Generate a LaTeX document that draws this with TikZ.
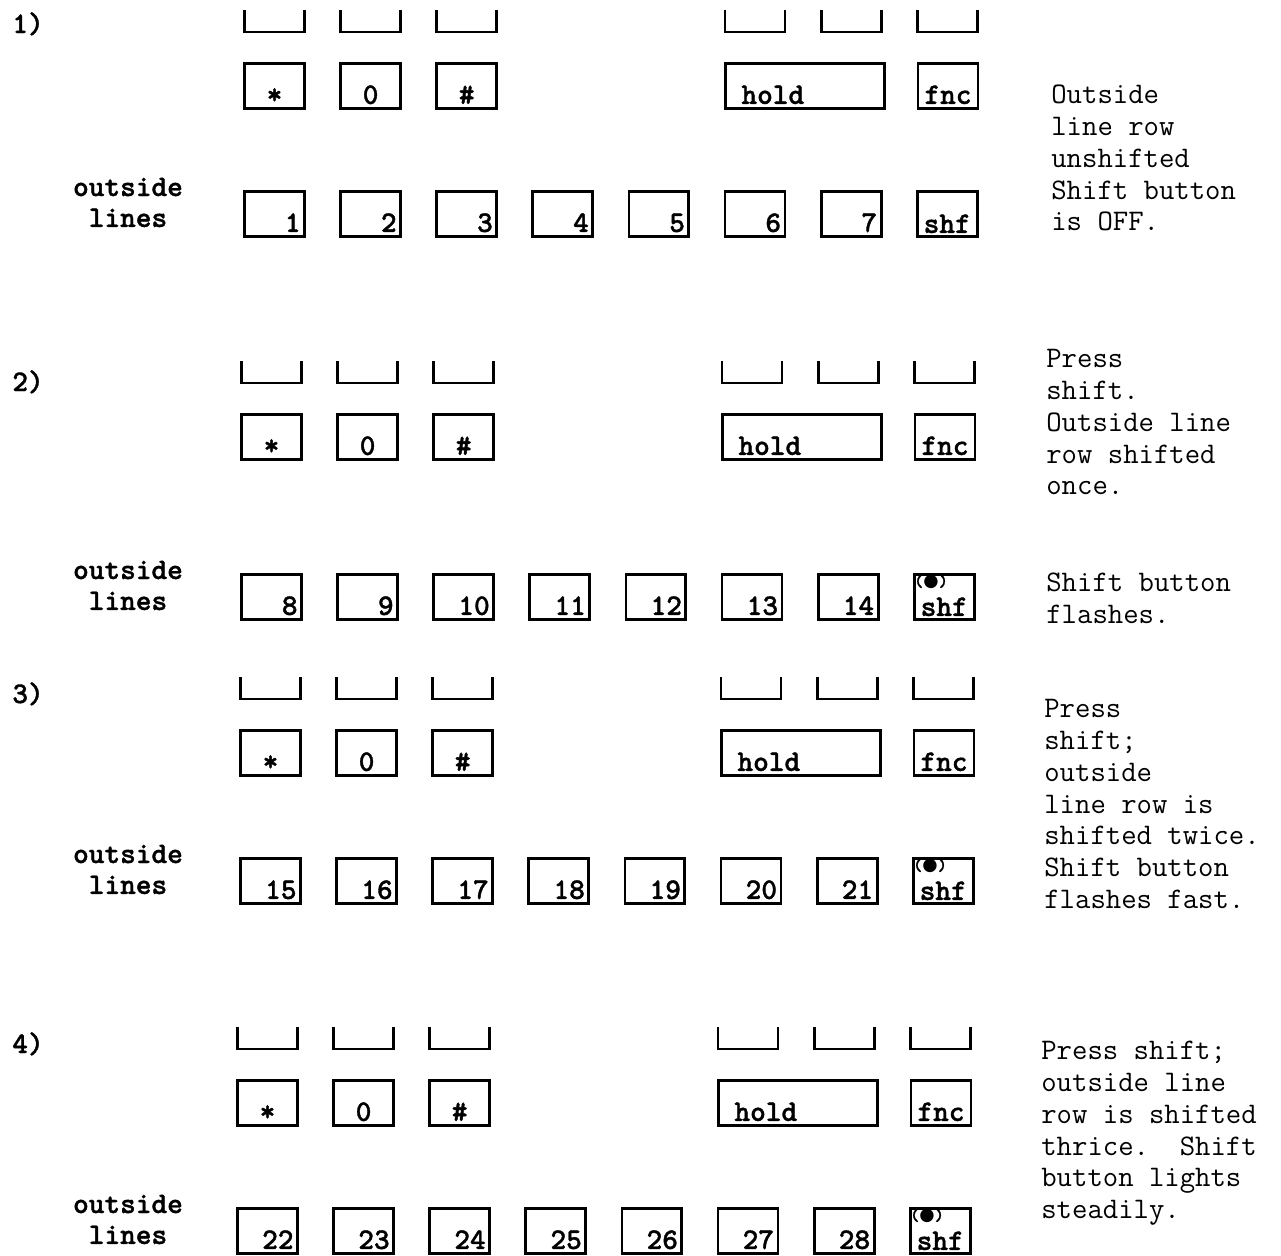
\documentclass[tikz,border=0pt]{standalone}
\usepackage{fontspec}
\newfontfamily\dotfont{DejaVu Sans}
\newfontfamily\heavytt[FakeBold=1.2]{lmmonolt10-bold.otf}
\frenchspacing

\tikzset{
  keybox/.style={draw, rectangle, line width=1.6pt, inner sep=0pt, minimum width=1.2cm, minimum height=0.9cm},
  keytext/.style={inner sep=0pt, font=\heavytt\fontsize{17}{18}\selectfont},
  steptext/.style={inner sep=0pt, font=\heavytt\fontsize{17}{17.6}\selectfont},
  dottext/.style={inner sep=0pt, font=\heavytt\fontsize{10}{10}\selectfont},
  notetext/.style={inner sep=0pt, align=left, anchor=north west, font=\ttfamily\fontsize{17}{18.1}\selectfont},
  cuff/.style={line width=1.6pt}
}

\begin{document}
\begin{tikzpicture}[x=0.02cm, y=-0.02cm]
  \useasboundingbox (0,0) rectangle (1281,1255);

  % ctyri kroky: cislo / popisek / drzaky / prostredni rada / rada linek / posun
  \foreach \p/\yl/\yb/\ym/\yr/\dx in {1/25/32/62/190/0, 2/383/383/413/573/-3, 3/695/699/729/857/-4, 4/1045/1049/1079/1207/-7}{
    \node[steptext, anchor=base west] (p\p-num) at (12,\yl+8) {\p)};
    \node[steptext, anchor=north, align=center] (p\p-lines) at (128,\yr-16) {\strut outside\\lines};
    \begin{scope}[xshift=\dx*0.02cm]
      % prazdne drzaky nahore
      \foreach \x in {274.5,370.6,466.7,755,851.1,947.2}
        \draw[cuff] (\x-30,\yb-22) |- (\x+30,\yb) -- (\x+30,\yb-22);

      % prostredni rada
      \node[keybox] (p\p-star) at (274.5,\ym+24) {};
      \node[keybox] (p\p-zero) at (370.6,\ym+24) {};
      \node[keybox] (p\p-hash) at (466.7,\ym+24) {};
      \node[keybox, minimum width=3.18cm] (p\p-hold) at (805,\ym+24) {};
      \node[keybox] (p\p-fnc) at (948,\ym+24) {};
      \node[keytext, anchor=base] (p\p-star-t) at ([shift={(0,-6)}]p\p-star.south) {*};
      \node[keytext, anchor=base] (p\p-zero-t) at ([shift={(0,-6)}]p\p-zero.south) {0};
      \node[keytext, anchor=base] (p\p-hash-t) at ([shift={(0,-6)}]p\p-hash.south) {\#};
      \node[keytext, anchor=base west] (p\p-hold-t) at ([shift={(17,-6)}]p\p-hold.south west) {hold};
      \node[keytext, anchor=base] (p\p-fnc-t) at ([shift={(0,-6)}]p\p-fnc.south) {fnc};

      % rada vnejsich linek
      \foreach \i [evaluate=\i as \kx using 274.5+96.1*(\i-1), evaluate=\i as \lbl using int(7*(\p-1)+\i)] in {1,...,7}{
        \node[keybox] (p\p-k\i) at (\kx,\yr+24) {};
        \node[keytext, anchor=base east] (p\p-t\i) at ([shift={(-5,-6)}]p\p-k\i.south east) {\lbl};
      }
      \node[keybox] (p\p-shf) at (947.2,\yr+24) {};
      \node[keytext, anchor=base] (p\p-shf-t) at ([shift={(0,-5)}]p\p-shf.south) {shf};
      \ifnum\p>1
        \node[dottext, anchor=north west] (p\p-led) at ([shift={(1,1)}]p\p-shf.north west) {({\dotfont\fontsize{10}{10}\selectfont ●})};
      \fi
    \end{scope}
  }

  % vysvetlivky vpravo
  \node[notetext] (note1) at (1051,81) {\strut Outside\\line row\\unshifted\\Shift button\\is OFF.};
  \node[notetext] (note2) at (1046,345) {\strut Press\\shift.\\Outside line\\row shifted\\once.};
  \node[notetext] (note2b) at (1046,569) {\strut Shift button\\flashes.};
  \node[notetext] (note3) at (1044,695) {\strut Press\\shift;\\outside\\line row is\\shifted twice.\\Shift button\\flashes fast.};
  \node[notetext] (note4) at (1041,1037) {\strut Press shift;\\outside line\\row is shifted\\thrice.~~Shift\\button lights\\steadily.};
\end{tikzpicture}
\end{document}
